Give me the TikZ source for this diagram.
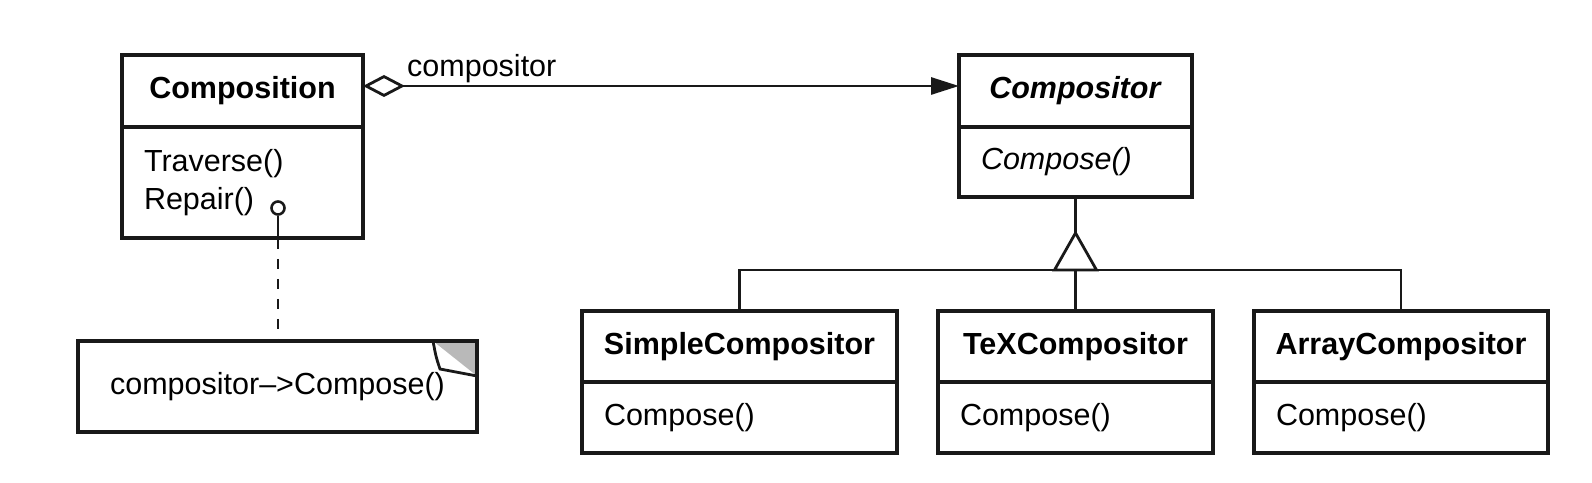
\documentclass[tikz,border=0pt]{standalone}
\usepackage{fontspec}
\setmainfont{Liberation Sans}
\usetikzlibrary{positioning,arrows.meta}

\begin{document}
\begin{tikzpicture}[x=1pt, y=1pt]
\tikzstyle{box}=[rectangle, draw=black!90, line width=3.2pt, outer sep=0pt, inner sep=0pt, text height=22pt, text depth=6pt, font=\fontsize{30.5}{38}\selectfont]
\tikzstyle{head}=[box, font=\fontsize{30.5}{38}\selectfont\bfseries, minimum height=71pt]
\tikzstyle{ops}=[box, align=left, inner xsep=22pt, minimum height=71pt]
\tikzstyle{connect}=[line width=2.8pt, draw=black!90]
\useasboundingbox (0,0) rectangle (1592,482);
  \node[head, minimum width=241pt, minimum height=72pt] (comp) at (242.5,391) {Composition};
  \node[ops, text width=197pt, minimum height=111pt, text depth=44pt] (compb) [below=0pt of comp] {Traverse()\\Repair()};
  \node[head, minimum width=233pt, minimum height=72pt] (cmp) [right=596pt of comp] {\textit{Compositor}};
  \node[ops, text width=189pt, minimum height=70pt] (cmpb) [below=0pt of cmp] {\textit{Compose()}};
  \node[head, minimum width=275pt] (tex) [below=114pt of cmpb] {TeXCompositor};
  \node[ops, text width=231pt] (texb) [below=0pt of tex] {Compose()};
  \node[head, minimum width=315pt] (simple) [left=41pt of tex] {SimpleCompositor};
  \node[ops, text width=271pt] (simpleb) [below=0pt of simple] {Compose()};
  \node[head, minimum width=294pt] (array) [right=41pt of tex] {ArrayCompositor};
  \node[ops, text width=250pt] (arrayb) [below=0pt of array] {Compose()};
  \node[box, minimum width=399pt, minimum height=91pt] (note) [below=103pt of compb, xshift=35pt] {compositor--{>}Compose()};
  % aggregation
  \path ([yshift=5pt]comp.east) edge [connect, {Diamond[open,length=42pt,width=22pt]}-{Triangle[length=28pt,width=17pt]}] ([yshift=5pt]cmp.west);
  \node[anchor=base west, font=\fontsize{30.5}{38}\selectfont, inner sep=0pt] (role) at ([xshift=44pt,yshift=14pt]comp.east) {compositor};
  % inheritance
  \draw[connect] (cmpb.south) -- ++(0,-36) coordinate (apex);
  \draw[connect, line join=miter] (apex) -- ++(-21,-37) coordinate (bl) -- ++(42,0) -- cycle;
  \draw[connect] (simple.north) |- (array.north |- bl) -- (array.north);
  \draw[connect] (tex.north) -- (tex.north |- bl);
  % note attached to Repair()
  \node[circle, draw=black!90, line width=2.6pt, minimum size=13pt, inner sep=0pt] (hook) at (278,274) {};
  \draw[connect] (hook.south) -- ++(0,-33) coordinate (hk);
  \draw[connect, dash pattern=on 10pt off 10pt, dash phase=10pt] (hk) -- (hk |- note.north);
  \fill[gray!55] ([xshift=-44pt]note.north east) -- (note.north east) -- ([yshift=-35pt]note.north east) -- cycle;
  \draw[line width=3.2pt, draw=black!90] ([xshift=-44pt]note.north east) -- (note.north east) -- ([yshift=-35pt]note.north east);
  \draw[connect] ([xshift=-44pt]note.north east) .. controls ([xshift=-41pt,yshift=-16pt]note.north east) .. ([xshift=-37pt,yshift=-28pt]note.north east) -- ([yshift=-35pt]note.north east);
\end{tikzpicture}
\end{document}
